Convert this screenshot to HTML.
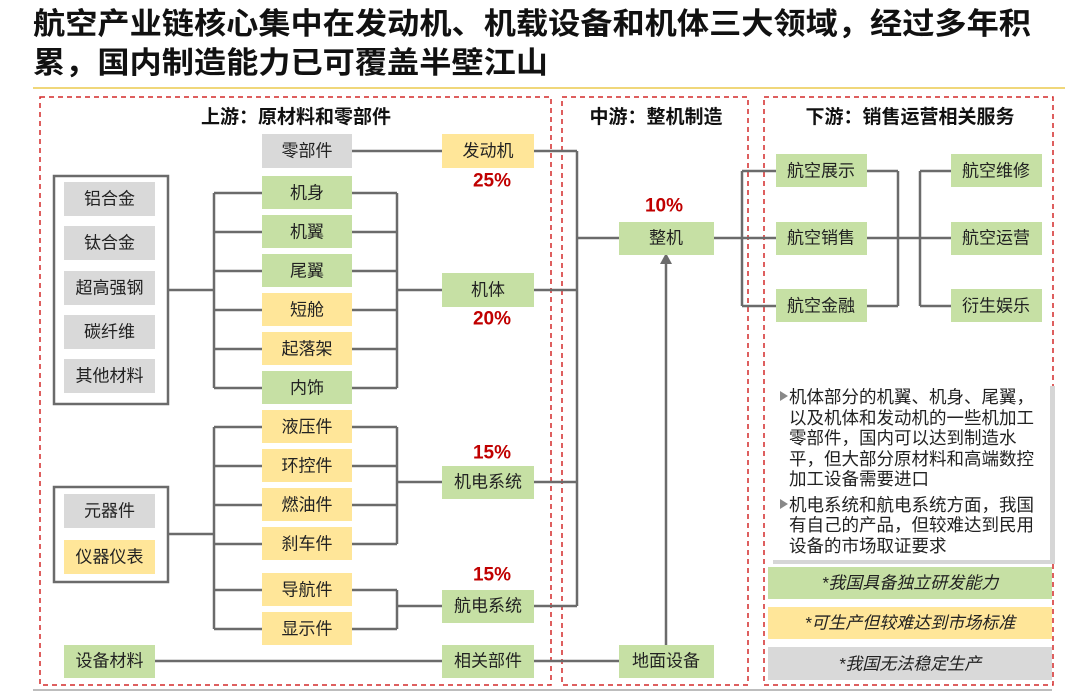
<!DOCTYPE html>
<html><head><meta charset="utf-8">
<style>
html,body{margin:0;padding:0;background:#fff;}
svg{display:block;font-family:"Liberation Sans","Noto Sans CJK SC",sans-serif;}
.lb{font-size:17px;fill:#222;text-anchor:middle;dominant-baseline:central;}
.hd{font-size:19px;font-weight:bold;fill:#111;text-anchor:middle;}
.pc{font-size:19px;font-weight:bold;fill:#c00000;text-anchor:middle;dominant-baseline:central;}
.ln{stroke:#6b6b6b;stroke-width:2.5;fill:none;}
.dash{stroke:#d42a2a;stroke-width:1.5;stroke-dasharray:5,4;fill:none;}
.g{fill:#c6e0a4}.y{fill:#ffe699}.r{fill:#d9d9d9}
.tx{font-size:17.5px;fill:#222;}
.lg{font-size:17px;font-style:italic;fill:#222;text-anchor:middle;dominant-baseline:central;}
</style></head>
<body>
<svg width="1080" height="698" viewBox="0 0 1080 698">
<g>
<text x="33" y="34" font-size="30" font-weight="bold" fill="#111" textLength="998" lengthAdjust="spacingAndGlyphs">航空产业链核心集中在发动机、机载设备和机体三大领域，经过多年积</text>
<text x="33" y="73" font-size="30" font-weight="bold" fill="#111" textLength="515" lengthAdjust="spacingAndGlyphs">累，国内制造能力已可覆盖半壁江山</text>
</g>
<line x1="33" y1="88" x2="1065" y2="88" stroke="#f0d77a" stroke-width="2"/>
<line x1="33" y1="690" x2="1052" y2="690" stroke="#bdbdbd" stroke-width="2"/>

<rect x="40" y="97" width="511" height="588" class="dash"/>
<rect x="562" y="97" width="186" height="588" class="dash"/>
<rect x="764" y="97" width="289" height="588" class="dash"/>
<text x="296" y="123" class="hd">上游：原材料和零部件</text>
<text x="656" y="123" class="hd">中游：整机制造</text>
<text x="910" y="123" class="hd">下游：销售运营相关服务</text>

<g>
<path class="ln" d="M352 151H442"/>
<path class="ln" d="M168 290H214M214 193V388M214 193H262M214 232H262M214 271H262M214 310H262M214 349H262M214 388H262"/>
<path class="ln" d="M352 193H397M352 232H397M352 271H397M352 310H397M352 349H397M352 388H397M397 193V388M397 290H442"/>
<path class="ln" d="M168 534H214M214 427V629M214 427H262M214 466H262M214 505H262M214 544H262M214 590H262M214 629H262"/>
<path class="ln" d="M352 427H397M352 466H397M352 505H397M352 544H397M397 427V544M397 482H442"/>
<path class="ln" d="M352 590H397M352 629H397M397 590V629M397 606H442"/>
<path class="ln" d="M155 661H442M534 661H619"/>
<path class="ln" d="M534 151H577M534 290H577M534 482H577M534 606H577M577 151V606M577 238H619"/>
<path class="ln" d="M666 645V262"/>
<path d="M660 264L666 253L672 264Z" fill="#6b6b6b"/>
<path class="ln" d="M714 238H776M742 171V306M742 171H776M742 306H776"/>
<path class="ln" d="M867 171H898M867 306H898M898 171V306M867 238H951M920 171V306M920 171H951M920 306H951"/>
</g>

<rect x="54" y="176" width="114" height="228" fill="none" stroke="#6b6b6b" stroke-width="2.5"/>
<rect x="54" y="487" width="114" height="95" fill="none" stroke="#6b6b6b" stroke-width="2.5"/>

<g>
<rect x="64" y="182" width="91" height="34" class="r"/><text x="109.5" y="199" class="lb">铝合金</text>
<rect x="64" y="226" width="91" height="34" class="r"/><text x="109.5" y="243" class="lb">钛合金</text>
<rect x="64" y="271" width="91" height="34" class="r"/><text x="109.5" y="288" class="lb">超高强钢</text>
<rect x="64" y="315" width="91" height="34" class="r"/><text x="109.5" y="332" class="lb">碳纤维</text>
<rect x="64" y="359" width="91" height="34" class="r"/><text x="109.5" y="376" class="lb">其他材料</text>
<rect x="64" y="494" width="91" height="34" class="r"/><text x="109.5" y="511" class="lb">元器件</text>
<rect x="64" y="540" width="91" height="34" class="y"/><text x="109.5" y="557" class="lb">仪器仪表</text>
<rect x="64" y="645" width="91" height="33" class="g"/><text x="109.5" y="661" class="lb">设备材料</text>
</g>

<g>
<rect x="262" y="134" width="90" height="34" class="r"/><text x="307" y="151" class="lb">零部件</text>
<rect x="262" y="176" width="90" height="33" class="g"/><text x="307" y="193" class="lb">机身</text>
<rect x="262" y="215" width="90" height="33" class="g"/><text x="307" y="232" class="lb">机翼</text>
<rect x="262" y="254" width="90" height="33" class="g"/><text x="307" y="271" class="lb">尾翼</text>
<rect x="262" y="293" width="90" height="33" class="y"/><text x="307" y="310" class="lb">短舱</text>
<rect x="262" y="332" width="90" height="33" class="y"/><text x="307" y="349" class="lb">起落架</text>
<rect x="262" y="371" width="90" height="33" class="g"/><text x="307" y="388" class="lb">内饰</text>
<rect x="262" y="410" width="90" height="33" class="y"/><text x="307" y="427" class="lb">液压件</text>
<rect x="262" y="449" width="90" height="33" class="y"/><text x="307" y="466" class="lb">环控件</text>
<rect x="262" y="488" width="90" height="33" class="y"/><text x="307" y="505" class="lb">燃油件</text>
<rect x="262" y="527" width="90" height="33" class="y"/><text x="307" y="544" class="lb">刹车件</text>
<rect x="262" y="573" width="90" height="33" class="y"/><text x="307" y="590" class="lb">导航件</text>
<rect x="262" y="612" width="90" height="33" class="y"/><text x="307" y="629" class="lb">显示件</text>
</g>

<g>
<rect x="442" y="134" width="92" height="34" class="y"/><text x="488" y="151" class="lb">发动机</text>
<rect x="442" y="273" width="92" height="34" class="g"/><text x="488" y="290" class="lb">机体</text>
<rect x="442" y="466" width="92" height="33" class="g"/><text x="488" y="482" class="lb">机电系统</text>
<rect x="442" y="590" width="92" height="33" class="g"/><text x="488" y="606" class="lb">航电系统</text>
<rect x="442" y="645" width="92" height="33" class="g"/><text x="488" y="661" class="lb">相关部件</text>
<text x="492" y="181" class="pc">25%</text>
<text x="492" y="319" class="pc">20%</text>
<text x="492" y="453" class="pc">15%</text>
<text x="492" y="575" class="pc">15%</text>
</g>

<g>
<rect x="619" y="222" width="95" height="33" class="g"/><text x="666" y="238" class="lb">整机</text>
<text x="664" y="206" class="pc">10%</text>
<rect x="619" y="645" width="95" height="33" class="g"/><text x="666" y="661" class="lb">地面设备</text>
</g>

<g>
<rect x="776" y="154" width="91" height="33" class="g"/><text x="821" y="171" class="lb">航空展示</text>
<rect x="776" y="222" width="91" height="33" class="g"/><text x="821" y="238" class="lb">航空销售</text>
<rect x="776" y="289" width="91" height="33" class="g"/><text x="821" y="306" class="lb">航空金融</text>
<rect x="951" y="154" width="91" height="33" class="g"/><text x="996" y="171" class="lb">航空维修</text>
<rect x="951" y="222" width="91" height="33" class="g"/><text x="996" y="238" class="lb">航空运营</text>
<rect x="951" y="289" width="91" height="33" class="g"/><text x="996" y="306" class="lb">衍生娱乐</text>
</g>

<g>
<rect x="773" y="386" width="282" height="178" fill="#d6d6d6"/>
<rect x="770" y="383" width="280" height="177" fill="#fff"/>
<path d="M780 391L788 396L780 401Z" fill="#888"/>
<text class="tx" x="789" y="403">机体部分的机翼、机身、尾翼，</text>
<text class="tx" x="789" y="424">以及机体和发动机的一些机加工</text>
<text class="tx" x="789" y="444">零部件，国内可以达到制造水</text>
<text class="tx" x="789" y="465">平，但大部分原材料和高端数控</text>
<text class="tx" x="789" y="485">加工设备需要进口</text>
<path d="M780 499L788 504L780 509Z" fill="#888"/>
<text class="tx" x="789" y="511">机电系统和航电系统方面，我国</text>
<text class="tx" x="789" y="531">有自己的产品，但较难达到民用</text>
<text class="tx" x="789" y="552">设备的市场取证要求</text>
</g>

<g>
<rect x="768" y="567" width="284" height="32" class="g"/>
<text x="910" y="583" class="lg">*我国具备独立研发能力</text>
<rect x="768" y="607" width="284" height="32" class="y"/>
<text x="910" y="623" class="lg">*可生产但较难达到市场标准</text>
<rect x="768" y="647" width="284" height="33" class="r"/>
<text x="910" y="664" class="lg">*我国无法稳定生产</text>
</g>
</svg>
</body></html>
